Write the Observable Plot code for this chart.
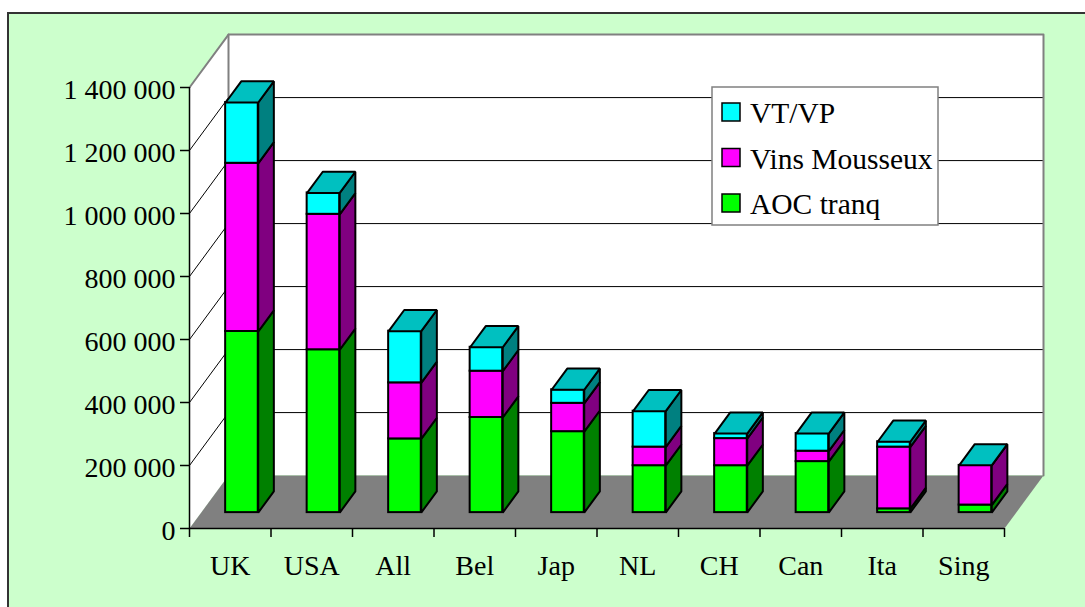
<!DOCTYPE html>
<html><head><meta charset="utf-8">
<script src="https://cdn.jsdelivr.net/npm/d3@7"></script>
<script src="https://cdn.jsdelivr.net/npm/@observablehq/plot@0.6"></script>
<style>
html,body{margin:0;padding:0;background:#fff;}
#wrap{position:relative;width:1085px;height:607px;overflow:hidden;}
#frame{position:absolute;left:7px;top:12px;width:1100px;height:620px;background:#CCFFCC;border-left:2px solid #333;border-top:2px solid #333;}
#chart{position:absolute;left:0;top:0;}
</style></head><body>
<div id="wrap"><div id="frame"></div><div id="chart"></div></div>
<script>
// ---- data ----
const countries = ["UK", "USA", "All", "Bel", "Jap", "NL", "CH", "Can", "Ita", "Sing"];
const aocTranq     = [575000, 517000, 234000, 302000, 257000, 149000, 149000, 162000, 12000, 24000];
const vinsMousseux = [534000, 430000, 178000, 147000,  90000,  59000,  86000,  33000, 196000, 126000];
const vtVp         = [193000,  68000, 164000,  76000,  43000, 114000,  16000,  56000,  17000, 0];
const seriesNames  = ["AOC tranq", "Vins Mousseux", "VT/VP"];
const seriesValues = [aocTranq, vinsMousseux, vtVp];
const yTicks = [0, 200000, 400000, 600000, 800000, 1000000, 1200000, 1400000];

// ---- styles ----
const frontColors = ["#00FF00", "#FF00FF", "#00FFFF"];
const sideColors  = ["#008000", "#800080", "#008080"];
const topColor = "#00C0C0";
const font = "'Liberation Serif', 'Times New Roman', serif";

// 3D geometry (depth vector expressed in scale units)
const N = countries.length;
const YMAX = 1400000;
const DX = 39 / 81.5;     // depth along x (band units)
const DY = 168000;        // depth along y (value units)
const F = 0.3, BD = 0.4, HW = 0.2;

const fmt = v => d3.format(",")(v).replace(/,/g, " ");

// stacked segments
const segs = [];
countries.forEach((c, i) => {
  let y0 = 0;
  seriesValues.forEach((vals, s) => {
    const y1 = y0 + vals[i];
    segs.push({i, s, y0, y1, top: s === seriesValues.length - 1});
    y0 = y1;
  });
});
const xl = d => d.i + 0.5 - HW + F * DX;
const xr = d => d.i + 0.5 + HW + F * DX;

const sidePts = [], topPts = [];
segs.forEach((d, k) => {
  const a = xr(d), b = xr(d) + BD * DX;
  const y0 = d.y0 + F * DY, y1 = d.y1 + F * DY;
  [[a, y0], [b, y0 + BD * DY], [b, y1 + BD * DY], [a, y1]].forEach(([x, y]) => sidePts.push({id: k, s: d.s, x, y}));
  if (d.top) {
    const l = xl(d);
    [[l, y1], [a, y1], [b, y1 + BD * DY], [l + BD * DX, y1 + BD * DY]].forEach(([x, y]) => topPts.push({id: k, x, y}));
  }
});

// walls, floor, grid
const sideWall = [[0, 0], [DX, DY], [DX, YMAX + DY], [0, YMAX]].map(([x, y]) => ({x, y}));
const floor = [[0, 0], [N, 0], [N + DX, DY], [DX, DY]].map(([x, y]) => ({x, y}));
const gridPts = [];
yTicks.filter(t => t > 0 && t < YMAX).forEach(t => {
  [[0, t], [DX, t + DY], [N + DX, t + DY]].forEach(([x, y]) => gridPts.push({t, x, y}));
});
const edgePts = [
  ...[[0, YMAX], [DX, YMAX + DY], [N + DX, YMAX + DY], [N + DX, DY]].map(([x, y]) => ({z: 0, x, y})),
  ...[[DX, DY], [DX, YMAX + DY]].map(([x, y]) => ({z: 1, x, y}))
];

const poly = (data, opts) => Plot.line(data, {x: "x", y: "y", curve: "linear-closed", ...opts});

const marks = [
  poly(sideWall, {fill: "white", stroke: "none"}),
  Plot.rect([0], {x1: DX, x2: N + DX, y1: DY, y2: YMAX + DY, fill: "white"}),
  Plot.line(gridPts, {x: "x", y: "y", z: "t", stroke: "black", strokeWidth: 1, curve: "linear"}),
  Plot.line(edgePts, {x: "x", y: "y", z: "z", stroke: "#808080", strokeWidth: 2, curve: "linear"}),
  poly(floor, {fill: "#808080", stroke: "none"}),
  Plot.ruleX([0], {y1: 0, y2: YMAX, stroke: "black", strokeWidth: 1.5}),
  Plot.ruleY([0], {x1: 0, x2: N, stroke: "black", strokeWidth: 1.5}),
  Plot.axisY({ticks: yTicks, tickSize: 9, tickFormat: () => "", label: null, strokeWidth: 1.5}),
  Plot.axisX({ticks: d3.range(N + 1), tickSize: 9, tickFormat: () => "", label: null, strokeWidth: 1.5}),
  Plot.text(yTicks, {x: 0, y: d => d, text: fmt, textAnchor: "end", dx: -14, dy: 11, lineAnchor: "bottom", fontSize: 28, fill: "black"}),
  Plot.text(countries, {x: (d, i) => i + 0.5, y: 0, text: d => d, dy: 46, lineAnchor: "bottom", fontSize: 28, fill: "black"}),
  Plot.rect(segs, {x1: xl, x2: xr, y1: d => d.y0 + F * DY, y2: d => d.y1 + F * DY, fill: d => frontColors[d.s], stroke: "black", strokeWidth: 2}),
  ...sideColors.map((c, s) => poly(sidePts.filter(p => p.s === s), {z: "id", fill: c, stroke: "black", strokeWidth: 2, strokeLinejoin: "miter"})),
  poly(topPts, {z: "id", fill: topColor, stroke: "black", strokeWidth: 2, strokeLinejoin: "miter"})
];

const chart = Plot.plot({
  width: 1085, height: 607,
  marginLeft: 189, marginRight: 81, marginTop: 87, marginBottom: 79,
  x: {type: "linear", domain: [0, N], axis: null},
  y: {type: "linear", domain: [0, YMAX], axis: null},
  color: {type: "identity"},
  style: {background: "transparent", fontFamily: font, fontSize: "28px", color: "black", overflow: "visible"},
  marks
});
document.getElementById("chart").appendChild(chart);

// legend (drawn into the same svg, top-right)
const svg = d3.select(chart);
const lg = svg.append("g").attr("transform", "translate(712,87)")
  .attr("font-family", font).attr("font-size", 29.5).attr("text-anchor", "start");
lg.append("rect").attr("width", 226).attr("height", 138).attr("fill", "white").attr("stroke", "#808080").attr("stroke-width", 1.5);
const legendOrder = [2, 1, 0];
legendOrder.forEach((s, j) => {
  const gy = 16 + j * 45.5;
  lg.append("rect").attr("x", 10).attr("y", gy).attr("width", 18).attr("height", 18)
    .attr("fill", frontColors[s]).attr("stroke", "black").attr("stroke-width", 1.5);
  lg.append("text").attr("x", 38).attr("y", gy + 20).attr("fill", "black")
    .attr("text-anchor", "start").text(seriesNames[s]);
});
</script>
</body></html>
